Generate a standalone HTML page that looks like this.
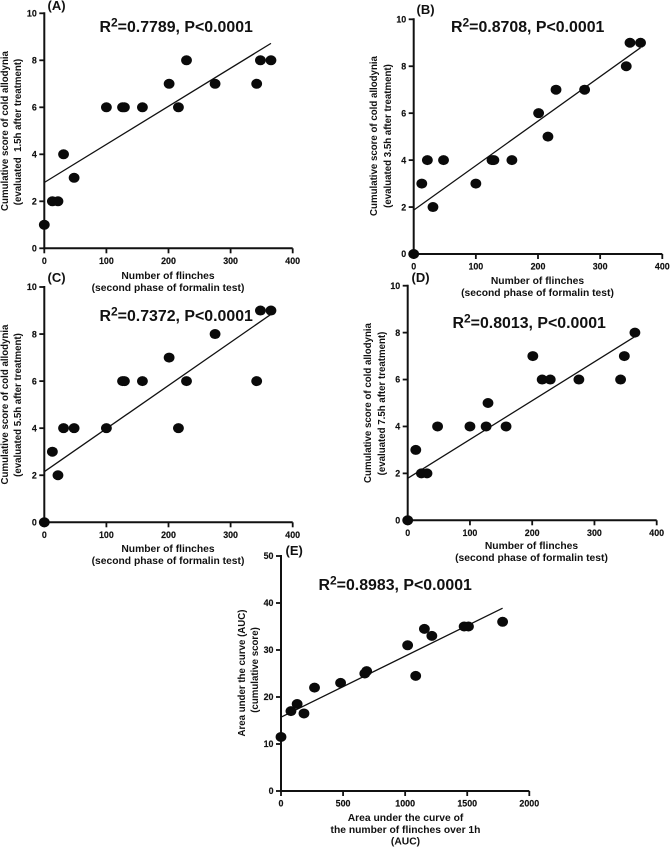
<!DOCTYPE html>
<html lang="en">
<head>
<meta charset="utf-8">
<title>Correlation of cold allodynia score with number of flinches</title>
<style>
html,body{margin:0;padding:0;background:#fff;}
svg{display:block;}
text{font-family:"Liberation Sans",sans-serif;font-weight:bold;fill:#111;}
.title{font-size:15.9px;}
.tag{font-size:13px;}
.lab{font-size:10.3px;text-anchor:middle;}
.ylab{font-size:9.7px;text-anchor:middle;}
.tick{font-size:8.9px;stroke:#111;stroke-width:0.15px;}
</style>
</head>
<body>
<svg id="figure" width="670" height="848" viewBox="0 0 670 848" xmlns="http://www.w3.org/2000/svg">
  <g>
    <text class="tag" x="47.5" y="10">(A)</text>
    <text class="title" x="99.5" y="32">R<tspan dy="-5.5" font-size="12">2</tspan><tspan dy="5.5">=0.7789, P&lt;0.0001</tspan></text>
    <text class="lab" x="168" y="279">Number of flinches</text>
    <text class="lab" x="168" y="291">(second phase of formalin test)</text>
    <text class="ylab" transform="translate(8,131) rotate(-90)">Cumulative score of cold allodynia</text>
    <text class="ylab" xml:space="preserve" transform="translate(21,132) rotate(-90)">(evaluated  1.5h after treatment)</text>
  </g>
  <g>
    <text class="tag" x="416.5" y="14">(B)</text>
    <text class="title" x="451" y="32">R<tspan dy="-5.5" font-size="12">2</tspan><tspan dy="5.5">=0.8708, P&lt;0.0001</tspan></text>
    <text class="lab" x="537.5" y="284">Number of flinches</text>
    <text class="lab" x="537.5" y="296">(second phase of formalin test)</text>
    <text class="ylab" transform="translate(377,136) rotate(-90)">Cumulative score of cold allodynia</text>
    <text class="ylab" transform="translate(391,136) rotate(-90)">(evaluated 3.5h after treatment)</text>
  </g>
  <g>
    <text class="tag" x="47.5" y="282">(C)</text>
    <text class="title" x="99.5" y="321">R<tspan dy="-5.5" font-size="12">2</tspan><tspan dy="5.5">=0.7372, P&lt;0.0001</tspan></text>
    <text class="lab" x="168" y="552">Number of flinches</text>
    <text class="lab" x="168" y="564">(second phase of formalin test)</text>
    <text class="ylab" transform="translate(8,404.5) rotate(-90)">Cumulative score of cold allodynia</text>
    <text class="ylab" transform="translate(21,405) rotate(-90)">(evaluated 5.5h after treatment)</text>
  </g>
  <g>
    <text class="tag" x="411.5" y="282">(D)</text>
    <text class="title" x="452.5" y="328">R<tspan dy="-5.5" font-size="12">2</tspan><tspan dy="5.5">=0.8013, P&lt;0.0001</tspan></text>
    <text class="lab" x="531.5" y="549">Number of flinches</text>
    <text class="lab" x="531.5" y="561">(second phase of formalin test)</text>
    <text class="ylab" transform="translate(371,403) rotate(-90)">Cumulative score of cold allodynia</text>
    <text class="ylab" transform="translate(385,403.5) rotate(-90)">(evaluated 7.5h after treatment)</text>
  </g>
  <g>
    <text class="tag" x="285.5" y="555">(E)</text>
    <text class="title" x="318.5" y="590">R<tspan dy="-5.5" font-size="12">2</tspan><tspan dy="5.5">=0.8983, P&lt;0.0001</tspan></text>
    <text class="lab" x="405.5" y="821">Area under the curve of</text>
    <text class="lab" x="405.5" y="833">the number of flinches over 1h</text>
    <text class="lab" x="405.5" y="844.5">(AUC)</text>
    <text class="ylab" transform="translate(245,673) rotate(-90)">Area under the curve (AUC)</text>
    <text class="ylab" transform="translate(258,670) rotate(-90)">(cumulative score)</text>
  </g>
</svg>
<script>
// Chart data
const flinches = [0, 13, 22, 31, 48, 100, 126, 129, 158, 201, 216, 229, 275, 342, 348, 365];
const scoreA = [1, 2, 2, 4, 3, 6, 6, 6, 6, 7, 6, 8, 7, 7, 8, 8];
const scoreB = [0, 3, 4, 2, 4, 3, 4, 4, 4, 6, 5, 7, 7, 8, 9, 9];
const scoreC = [0, 3, 2, 4, 4, 4, 6, 6, 6, 7, 4, 6, 8, 6, 9, 9];
const scoreD = [0, 3, 2, 2, 4, 4, 4, 5, 4, 7, 6, 6, 6, 6, 7, 8];
const aucFlinches = [0, 80, 130, 185, 270, 480, 675, 690, 1020, 1085, 1155, 1215, 1475, 1510, 1785];
const aucScore = [11.5, 17, 18.5, 16.5, 22, 23, 25, 25.5, 31, 24.5, 34.5, 33, 35, 35, 36];
const fitXFlinches = [0, 365];
const fitYA = [2.8, 8.72];
const fitYB = [1.87, 8.79];
const fitYC = [2.15, 8.84];
const fitYD = [1.79, 7.83];
const fitXAuc = [0, 1785];
const fitYE = [15.7, 38.9];
const xTicksFlinches = [0, 100, 200, 300, 400];
const yTicksScore = [0, 2, 4, 6, 8, 10];
const xTicksAuc = [0, 500, 1000, 1500, 2000];
const yTicksAuc = [0, 10, 20, 30, 40, 50];

const NS = 'http://www.w3.org/2000/svg';
const figure = document.getElementById('figure');

function make(parent, tag, attrs) {
  const el = document.createElementNS(NS, tag);
  for (const key in attrs) el.setAttribute(key, attrs[key]);
  parent.appendChild(el);
  return el;
}

function drawPanel(id, box, xs, ys, fitX, fitY, xTicks, yTicks) {
  const xMax = xTicks[xTicks.length - 1];
  const yMax = yTicks[yTicks.length - 1];
  const sx = v => box.left + (v / xMax) * (box.right - box.left);
  const sy = v => box.bottom - (v / yMax) * (box.bottom - box.top);

  const g = make(figure, 'g', {});
  
  

  const xAxis = make(g, 'line', {x1: box.left - 1, x2: box.right, y1: box.bottom, y2: box.bottom, stroke: '#111', 'stroke-width': 2});
  
  

  const yAxis = make(g, 'line', {x1: box.left, x2: box.left, y1: box.top - 1, y2: box.bottom + 1, stroke: '#111', 'stroke-width': 2});
  
  

  xTicks.forEach(t => {
    const mark = make(g, 'line', {x1: sx(t), x2: sx(t), y1: box.bottom, y2: box.bottom + 5, stroke: '#111', 'stroke-width': 1.8});
    
    
    const label = make(g, 'text', {x: sx(t), y: box.bottom + 15.5, 'text-anchor': 'middle', class: 'tick'});
    label.textContent = t;
    
    
  });

  yTicks.forEach(t => {
    const mark = make(g, 'line', {x1: box.left - 5, x2: box.left, y1: sy(t), y2: sy(t), stroke: '#111', 'stroke-width': 1.8});
    
    
    const label = make(g, 'text', {x: box.left - 7.5, y: sy(t) + 3.2, 'text-anchor': 'end', class: 'tick'});
    label.textContent = t;
    
    
  });

  const fit = make(g, 'line', {x1: sx(fitX[0]), y1: sy(fitY[0]), x2: sx(fitX[1]), y2: sy(fitY[1]), stroke: '#111', 'stroke-width': 1.3});
  
  

  xs.forEach((x, i) => {
    const dot = make(g, 'ellipse', {cx: sx(x), cy: sy(ys[i]), rx: 5.4, ry: 5, fill: '#0a0a0a'});
    
    
  });
}

drawPanel('a', {left: 44.3, right: 292.7, top: 13.3, bottom: 248.3}, flinches, scoreA, fitXFlinches, fitYA, xTicksFlinches, yTicksScore);
drawPanel('b', {left: 413.7, right: 662.3, top: 19.3, bottom: 254}, flinches, scoreB, fitXFlinches, fitYB, xTicksFlinches, yTicksScore);
drawPanel('c', {left: 44.3, right: 292.7, top: 287, bottom: 522.3}, flinches, scoreC, fitXFlinches, fitYC, xTicksFlinches, yTicksScore);
drawPanel('d', {left: 407.7, right: 656.7, top: 285.7, bottom: 520.3}, flinches, scoreD, fitXFlinches, fitYD, xTicksFlinches, yTicksScore);
drawPanel('e', {left: 281, right: 529.3, top: 556, bottom: 791}, aucFlinches, aucScore, fitXAuc, fitYE, xTicksAuc, yTicksAuc);
</script>
</body>
</html>
